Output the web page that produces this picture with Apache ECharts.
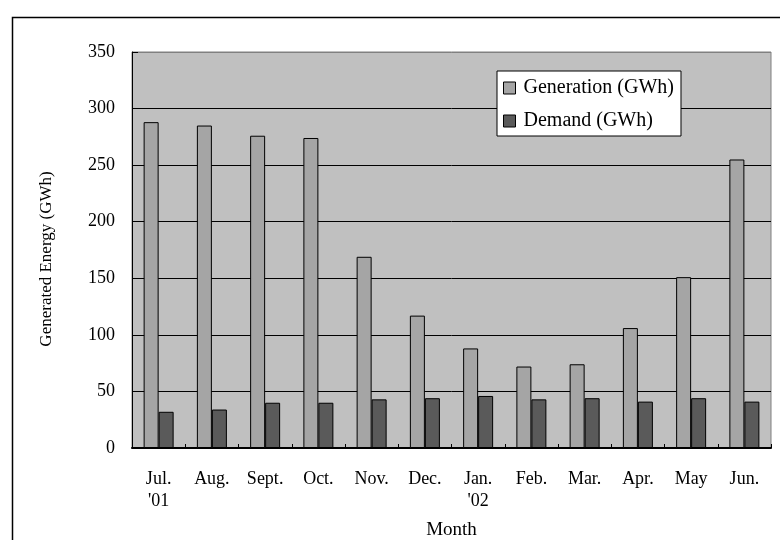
<!DOCTYPE html>
<html>
<head>
<meta charset="utf-8">
<script src="https://cdn.jsdelivr.net/npm/echarts@6/dist/echarts.min.js"></script>
<style>
html,body{margin:0;padding:0;background:#fff;}
#chart{width:780px;height:540px;}
</style>
</head>
<body>
<div id="chart"></div>
<script>
var months = ["Jul.\n'01", "Aug.", "Sept.", "Oct.", "Nov.", "Dec.", "Jan.\n'02", "Feb.", "Mar.", "Apr.", "May", "Jun."];
var generation = [288, 285, 276, 274, 169, 117, 88, 72, 74, 106, 151, 255];
var demand = [32, 34, 40, 40, 43, 44, 46, 43, 44, 41, 44, 41];
var yTicks = [0, 50, 100, 150, 200, 250, 300, 350];

var FONT = "'Liberation Serif', 'Times New Roman', serif";
var chart = echarts.init(document.getElementById('chart'), null, {renderer: 'canvas'});
chart.setOption({
  animation: false,
  backgroundColor: '#ffffff',
  textStyle: {fontFamily: FONT, color: '#000'},
  graphic: [{
    type: 'rect', left: 10, top: 15, z: -10, silent: true,
    shape: {x: 0, y: 0, width: 800, height: 600},
    style: {fill: 'none', stroke: '#000', lineWidth: 1.5}
  }],
  grid: {
    left: 132, right: 9, top: 52, bottom: 92,
    containLabel: false, outerBoundsMode: 'none',
    show: true, backgroundColor: '#c0c0c0', borderColor: '#808080', borderWidth: 1
  },
  legend: {
    orient: 'vertical', left: 497, top: 71,
    backgroundColor: '#ffffff', borderColor: '#000', borderWidth: 1,
    padding: [7, 7, 5, 6], itemGap: 13, itemWidth: 12, itemHeight: 12,
    icon: 'rect',
    itemStyle: {borderColor: '#000', borderWidth: 1},
    textStyle: {fontFamily: FONT, fontSize: 20, color: '#000', lineHeight: 20, padding: [0, 0, 0, 3]},
    data: ['Generation (GWh)', 'Demand (GWh)']
  },
  xAxis: {
    type: 'category', data: months,
    name: 'Month', nameLocation: 'middle', nameGap: 73,
    nameTextStyle: {fontFamily: FONT, fontSize: 19, color: '#000'},
    axisLine: {show: true, lineStyle: {color: '#000', width: 2}},
    axisTick: {show: true, inside: true, length: 4, alignWithLabel: false, lineStyle: {color: '#000'}},
    axisLabel: {fontFamily: FONT, fontSize: 18, color: '#000', margin: 20, lineHeight: 22, interval: 0, align: 'center'},
    splitLine: {show: false}
  },
  yAxis: {
    type: 'value', min: yTicks[0], max: yTicks[yTicks.length - 1], interval: 50,
    name: 'Generated Energy (GWh)', nameLocation: 'middle', nameGap: 77,
    nameTextStyle: {fontFamily: FONT, fontSize: 17, color: '#000', padding: [0, 18, 0, 0]},
    axisLine: {show: true, lineStyle: {color: '#000', width: 1}},
    axisTick: {show: true, inside: true, length: 6, lineStyle: {color: '#000'}},
    axisLabel: {fontFamily: FONT, fontSize: 18, color: '#000', margin: 17},
    splitLine: {show: true, lineStyle: {color: ['#000', '#000', '#000', '#000', '#000', '#000', '#000', '#808080'], width: 1}}
  },
  series: [{
    name: 'Generation (GWh)', type: 'bar', data: generation,
    barWidth: 15, barGap: '0%',
    itemStyle: {color: '#a5a5a5', borderColor: '#000', borderWidth: 1}
  }, {
    name: 'Demand (GWh)', type: 'bar', data: demand,
    barWidth: 15, barGap: '0%',
    itemStyle: {color: '#5a5a5a', borderColor: '#000', borderWidth: 1}
  }]
});
</script>
</body>
</html>
